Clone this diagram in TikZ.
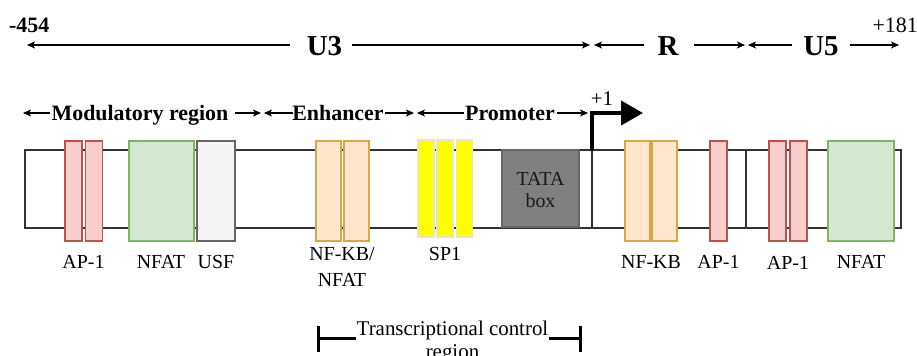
\documentclass[tikz,border=0pt]{standalone}
\usepackage{fontspec}
\setmainfont{Liberation Serif}
\usetikzlibrary{arrows.meta}
\definecolor{apfill}{HTML}{F8CECC}\definecolor{apdraw}{HTML}{B85450}
\definecolor{nffill}{HTML}{D5E8D4}\definecolor{nfdraw}{HTML}{82B366}
\definecolor{usffill}{HTML}{F5F5F5}\definecolor{usfdraw}{HTML}{666666}
\definecolor{kbfill}{HTML}{FFE6CC}\definecolor{kbdraw}{HTML}{D6A84A}
\definecolor{spfill}{HTML}{FFFF00}\definecolor{spdraw}{HTML}{E8E8B8}
\definecolor{tatafill}{HTML}{808080}\definecolor{tatadraw}{HTML}{666666}
\definecolor{barcol}{HTML}{333333}
\tikzset{
  box/.style={rectangle, inner sep=0pt, line width=1.1bp},
  apbox/.style={box, fill=apfill, draw=apdraw, minimum width=17bp, minimum height=100bp},
  nfbox/.style={box, fill=nffill, draw=nfdraw, minimum width=65bp, minimum height=100bp},
  usfbox/.style={box, fill=usffill, draw=usfdraw, minimum width=38bp, minimum height=100bp},
  kbbox/.style={box, fill=kbfill, draw=kbdraw, minimum width=25bp, minimum height=100bp},
  spbox/.style={box, fill=spfill, draw=spdraw, minimum width=16bp, minimum height=97bp},
  tatabox/.style={box, fill=tatafill, draw=tatadraw, minimum width=77bp, minimum height=77bp},
  lbl/.style={anchor=base, inner sep=0pt, font=\fontsize{20}{22}\selectfont},
  region/.style={anchor=base, inner sep=0pt, font=\bfseries\fontsize{22}{24}\selectfont},
  big/.style={anchor=base, inner sep=0pt, font=\bfseries\fontsize{29}{32}\selectfont},
  dim/.style={line width=1.1bp, -{Stealth[length=8bp,width=7bp,inset=2bp]}},
}
\begin{document}
\begin{tikzpicture}[x=1bp,y=-1bp]
\useasboundingbox (0,0) rectangle (917,355);
\fill[white] (0,0) rectangle (917,355);

% main bar
\node[draw=barcol, line width=1.1bp, inner sep=0pt, minimum width=876bp, minimum height=78bp] (bar) at (463,189) {};
\draw[barcol, line width=1.1bp] (592,150) -- (592,228);
\draw[barcol, line width=1.1bp] (746,150) -- (746,228);

% boxes
\node[apbox] (apa) at (73.5,191) {};
\node[apbox] (apb) at (94,191) {};
\node[nfbox] (nfat1) at (161.5,191) {};
\node[usfbox] (usf) at (216,191) {};
\node[kbbox] (kba) at (328.5,191) {};
\node[kbbox] (kbb) at (356.5,191) {};
\node[spbox] (spa) at (426,188.5) {};
\node[spbox] (spb) at (445,188.5) {};
\node[spbox] (spc) at (464.5,188.5) {};
\node[tatabox] (tata) at (540.5,188.5) {};
\node[kbbox] (kbc) at (637.5,191) {};
\node[kbbox] (kbd) at (664.5,191) {};
\node[apbox] (apc) at (718.5,191) {};
\node[apbox] (apd) at (777.5,191) {};
\node[apbox] (ape) at (798.5,191) {};
\node[nfbox, minimum width=66bp] (nfat2) at (861,191) {};

% TATA text
\node[lbl, text=black!90] (tatat) at (540.5,185) {TATA};
\node[lbl, text=black!90] (tatab) at (540.5,207) {box};

% labels
\node[lbl] (lap1) at (83.5,268) {AP-1};
\node[lbl] (lnf1) at (161,268) {NFAT};
\node[lbl] (lusf) at (216,268) {USF};
\node[lbl] (lkb1) at (342,260) {NF-KB/};
\node[lbl] (lkb1b) at (342,286) {NFAT};
\node[lbl] (lsp) at (445,260) {SP1};
\node[lbl] (lkb2) at (651,268) {NF-KB};
\node[lbl] (lap2) at (718.5,268) {AP-1};
\node[lbl] (lap3) at (788,269) {AP-1};
\node[lbl] (lnf2) at (861,268) {NFAT};

% top row
\node[anchor=base west, inner sep=0pt, font=\bfseries\fontsize{22}{24}\selectfont] (m454) at (9,32) {-454};
\node[anchor=base east, inner sep=0pt, font=\fontsize{22}{24}\selectfont] (p181) at (918,32) {+181};
\node[big] (u3) at (324.5,55) {U3};
\node[big] (r) at (668,55) {R};
\node[big] (u5) at (821,55) {U5};
\coordinate (t0) at (27,45);
\coordinate (t1) at (590,45);
\coordinate (t2) at (594,45);
\coordinate (t3) at (745,45);
\coordinate (t4) at (748,45);
\coordinate (t5) at (899,45);
\draw[dim] (290,45) -- (t0);
\draw[dim] (352,45) -- (t1);
\draw[dim] (644,45) -- (t2);
\draw[dim] (694,45) -- (t3);
\draw[dim] (792,45) -- (t4);
\draw[dim] (850,45) -- (t5);

% second row
\node[region] (mod) at (140,120) {Modulatory region};
\node[region] (enh) at (338,120) {Enhancer};
\node[region] (pro) at (510,120) {Promoter};
\coordinate (s0) at (23,113);
\coordinate (s1) at (261,113);
\coordinate (s2) at (264,113);
\coordinate (s3) at (414,113);
\coordinate (s4) at (417,113);
\coordinate (s5) at (588,113);
\draw[dim] (50,113) -- (s0);
\draw[dim] (235,113) -- (s1);
\draw[dim] (293,113) -- (s2);
\draw[dim] (385,113) -- (s3);
\draw[dim] (464,113) -- (s4);
\draw[dim] (557,113) -- (s5);

% +1 transcription start
\coordinate (tss) at (592,151);
\coordinate (tssend) at (643,113);
\draw[line width=4bp, -{Triangle[length=22bp,width=24bp]}] (tss) |- (tssend);
\node[anchor=base, inner sep=0pt, font=\fontsize{21}{22}\selectfont] (plus1) at (602,105) {+1};

% transcriptional control region bracket
\node[anchor=base, inner sep=0pt, font=\fontsize{21}{22}\selectfont] (tcr) at (452.5,335) {Transcriptional control};
\node[anchor=base, inner sep=0pt, font=\fontsize{21}{22}\selectfont] (tcr2) at (452.5,358) {region};
\coordinate (bl) at (318,338);
\coordinate (br) at (580,338);
\draw[line width=3bp] (bl) -- (356,338);
\draw[line width=3bp] (549,338) -- (br);
\draw[line width=3bp] (318,326) -- (318,352);
\draw[line width=3bp] (580,326) -- (580,352);
\end{tikzpicture}
\end{document}
